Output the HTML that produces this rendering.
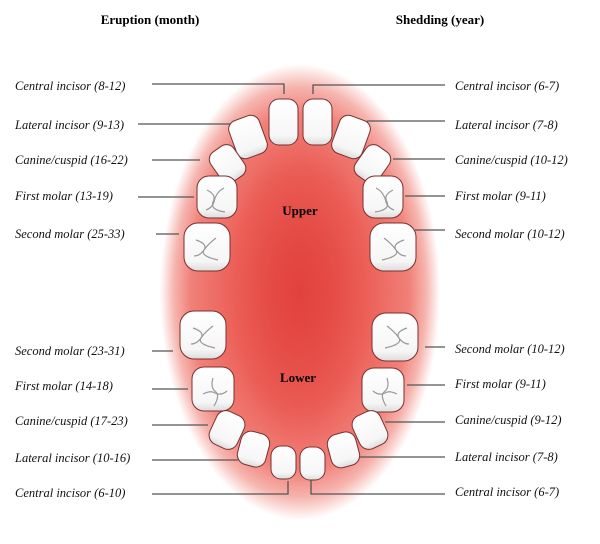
<!DOCTYPE html>
<html><head><style>
html,body{margin:0;padding:0;background:#fff;}
svg{display:block;}
text{font-family:"Liberation Serif",serif;}
.l{font-style:italic;font-size:12.5px;fill:#111;}
.ln{stroke:#555;stroke-width:1.3;fill:none;}
.t{fill:url(#tg);stroke:#7a3030;stroke-width:1;}
.c{stroke:#999;stroke-width:1.2;fill:none;}
</style></head><body>
<svg width="600" height="544" viewBox="0 0 600 544" xmlns="http://www.w3.org/2000/svg">
<defs>
<radialGradient id="mg" cx="50%" cy="50%" r="50%">
<stop offset="0" stop-color="#e84a44"/>
<stop offset="0.5" stop-color="#ec625a"/>
<stop offset="0.78" stop-color="#f08078"/>
<stop offset="0.9" stop-color="#f6b4ae"/>
<stop offset="1" stop-color="#ffffff"/>
</radialGradient>
<radialGradient id="ig" cx="50%" cy="50%" r="50%">
<stop offset="0" stop-color="#e0403c" stop-opacity="0.8"/>
<stop offset="1" stop-color="#e0403c" stop-opacity="0"/>
</radialGradient>
<linearGradient id="tg" x1="0" y1="0" x2="0" y2="1">
<stop offset="0" stop-color="#ffffff"/>
<stop offset="0.8" stop-color="#f6f6f6"/>
<stop offset="1" stop-color="#dcdcdc"/>
</linearGradient>
</defs>
<text x="150" y="24" text-anchor="middle" font-weight="bold" font-size="13">Eruption (month)</text>
<text x="440" y="24" text-anchor="middle" font-weight="bold" font-size="13">Shedding (year)</text>

<ellipse cx="300" cy="292" rx="140" ry="228" fill="url(#mg)"/>
<ellipse cx="300" cy="290" rx="70" ry="160" fill="url(#ig)"/>

<!-- upper teeth -->
<rect class="t" x="269" y="99" width="29" height="46" rx="10"/>
<rect class="t" x="303" y="99" width="29" height="46" rx="10"/>
<rect class="t" x="232" y="117" width="32" height="40" rx="9" transform="rotate(-20 248 137)"/>
<rect class="t" x="335" y="117" width="32" height="40" rx="9" transform="rotate(20 351 137)"/>
<rect class="t" x="213" y="146" width="28" height="36" rx="9" transform="rotate(-35 227 163)"/>
<rect class="t" x="359" y="146" width="28" height="36" rx="9" transform="rotate(35 373 163)"/>
<rect class="t" x="197" y="176" width="40" height="42" rx="12"/>
<rect class="t" x="363" y="176" width="40" height="42" rx="12"/>
<rect class="t" x="184" y="223" width="46" height="48" rx="14"/>
<rect class="t" x="370" y="223" width="46" height="48" rx="14"/>
<!-- lower teeth -->
<rect class="t" x="180" y="311" width="46" height="48" rx="14"/>
<rect class="t" x="372" y="313" width="46" height="48" rx="14"/>
<rect class="t" x="192" y="367" width="42" height="44" rx="12"/>
<rect class="t" x="362" y="368" width="42" height="44" rx="12"/>
<rect class="t" x="212" y="412" width="30" height="36" rx="10" transform="rotate(25 227 430)"/>
<rect class="t" x="355" y="412" width="30" height="36" rx="10" transform="rotate(-25 370 430)"/>
<rect class="t" x="239" y="432" width="29" height="34" rx="10" transform="rotate(15 253 449)"/>
<rect class="t" x="329" y="433" width="29" height="34" rx="10" transform="rotate(-15 343 450)"/>
<rect class="t" x="271" y="446" width="25" height="33" rx="10"/>
<rect class="t" x="300" y="447" width="25" height="33" rx="10"/>
<!-- molar cusps -->
<g class="c">
<path d="M207 190 q10 5 6 12 q-3 8 12 10 M224 188 q-8 4 -10 14 q-2 6 -8 8"/>
<path d="M393 190 q-10 5 -6 12 q3 8 -12 10 M376 188 q8 4 10 14 q2 6 8 8"/>
<path d="M196 240 q12 4 8 10 q-4 6 14 10 M216 238 q-8 6 -12 12 q-4 6 -10 6"/>
<path d="M404 240 q-12 4 -8 10 q4 6 -14 10 M384 238 q8 6 12 12 q4 6 10 6"/>
<path d="M193 328 q12 4 8 10 q-4 6 14 10 M213 326 q-8 6 -12 12 q-4 6 -10 6"/>
<path d="M407 328 q-12 4 -8 10 q4 6 -14 10 M387 326 q8 6 12 12 q4 6 10 6"/>
<path d="M213 378 q-3 10 3 14 q4 4 -2 14 M203 394 q8 -4 12 -1 q6 3 12 -2"/>
<path d="M387 378 q3 10 -3 14 q-4 4 2 14 M397 394 q-8 -4 -12 -1 q-6 3 -12 -2"/>
</g>

<text x="300" y="215" text-anchor="middle" font-weight="bold" font-size="13">Upper</text>
<text x="298" y="382" text-anchor="middle" font-weight="bold" font-size="13">Lower</text>

<!-- left lines -->
<path class="ln" d="M152 84 H284 V94"/>
<path class="ln" d="M138 124 H231"/>
<path class="ln" d="M152 160 H200"/>
<path class="ln" d="M138 197 H194"/>
<path class="ln" d="M156 234 H179"/>
<path class="ln" d="M152 351 H173"/>
<path class="ln" d="M152 389 H188"/>
<path class="ln" d="M152 425 H208"/>
<path class="ln" d="M152 460 H238"/>
<path class="ln" d="M152 494 H288 V481"/>
<!-- right lines -->
<path class="ln" d="M313 94 V85 H445"/>
<path class="ln" d="M367 121 H445"/>
<path class="ln" d="M393 159 H445"/>
<path class="ln" d="M405 196 H445"/>
<path class="ln" d="M415 230 H445"/>
<path class="ln" d="M425 347 H445"/>
<path class="ln" d="M407 385 H445"/>
<path class="ln" d="M385 422 H445"/>
<path class="ln" d="M360 457 H445"/>
<path class="ln" d="M311 480 V494 H445"/>

<g class="l">
<text x="15" y="90">Central incisor (8-12)</text>
<text x="15" y="129">Lateral incisor (9-13)</text>
<text x="15" y="164">Canine/cuspid (16-22)</text>
<text x="15" y="200">First molar (13-19)</text>
<text x="15" y="238">Second molar (25-33)</text>
<text x="15" y="355">Second molar (23-31)</text>
<text x="15" y="390">First molar (14-18)</text>
<text x="15" y="425">Canine/cuspid (17-23)</text>
<text x="15" y="462">Lateral incisor (10-16)</text>
<text x="15" y="497">Central incisor (6-10)</text>
<text x="455" y="90">Central incisor (6-7)</text>
<text x="455" y="129">Lateral incisor (7-8)</text>
<text x="455" y="164">Canine/cuspid (10-12)</text>
<text x="455" y="200">First molar (9-11)</text>
<text x="455" y="238">Second molar (10-12)</text>
<text x="455" y="353">Second molar (10-12)</text>
<text x="455" y="388">First molar (9-11)</text>
<text x="455" y="424">Canine/cuspid (9-12)</text>
<text x="455" y="461">Lateral incisor (7-8)</text>
<text x="455" y="496">Central incisor (6-7)</text>
</g>
</svg>
</body></html>
